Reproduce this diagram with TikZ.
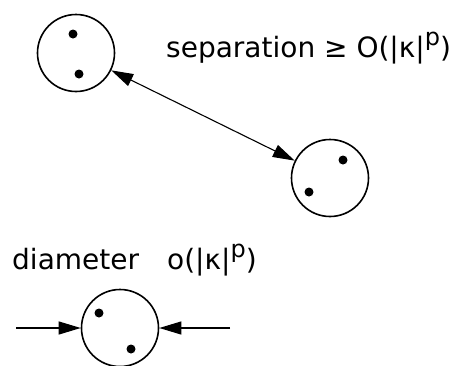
\documentclass[tikz,border=0pt]{standalone}
\usepackage{fontspec}
\setmainfont{DejaVu Sans}
\usetikzlibrary{arrows.meta}

\tikzset{
  blob/.style={draw, circle, line width=1.6pt, minimum size=77pt, inner sep=0pt},
  grain/.style={fill, circle, minimum size=9pt, inner sep=0pt},
  lbl/.style={font=\fontsize{28}{30}\selectfont, inner sep=0pt, anchor=base west},
  head/.tip={Triangle[length=22pt,width=13pt]},
  tip/.style={line width=1.1pt, -head}
}

\begin{document}
\begin{tikzpicture}[x=1pt,y=-1pt]
    \useasboundingbox (0,0) rectangle (456,365);
    % clusters
    \node[blob] (c1) at (76,53) {};
    \node[grain] (g11) at (73,34) {};
    \node[grain] (g12) at (79,74) {};
    \node[blob] (c2) at (330,178) {};
    \node[grain] (g21) at (343,160) {};
    \node[grain] (g22) at (309,192) {};
    \node[blob] (c3) at (120,328) {};
    \node[grain] (g31) at (99,313) {};
    \node[grain] (g32) at (131,349) {};
    % labels
    \node[lbl] (sep) at (166,57) {separation ≥ O(|κ|\raisebox{0.42em}{\fontsize{24}{24}\selectfont p})};
    \node[lbl] (diam) at (12,269) {diameter\hspace{28pt}o(|κ|\raisebox{0.42em}{\fontsize{24}{24}\selectfont p})};
    % arrows
    \draw[tip, head-head] (c1) -- (c2);
    \coordinate (l) at (16,328);
    \coordinate (r) at (230,328);
    \draw[tip] (l) -- (c3);
    \draw[tip] (r) -- (c3);
\end{tikzpicture}
\end{document}
